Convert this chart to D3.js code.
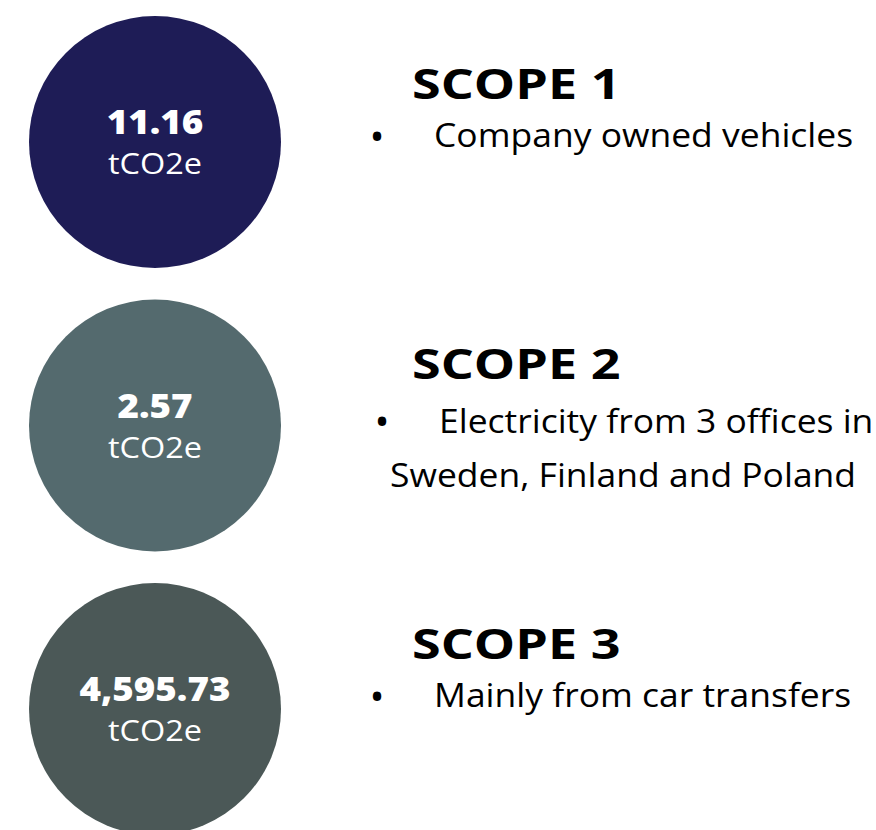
<!DOCTYPE html>
<html>
<head>
<meta charset="utf-8">
<script src="https://cdn.jsdelivr.net/npm/d3@7"></script>
<style>
  html, body { margin: 0; padding: 0; background: #fff; }
  svg { display: block; }
  text { font-family: "Open Sans", "Noto Sans", sans-serif; }
</style>
</head>
<body>
<div id="chart"></div>
<script>
// scopes and their reported emissions
const scopes = ["SCOPE 1", "SCOPE 2", "SCOPE 3"];
const emissions = [11.16, 2.57, 4595.73];
const unit = "tCO2e";
const descriptions = [
  ["Company owned vehicles"],
  ["Electricity from 3 offices in", "Sweden, Finland and Poland"],
  ["Mainly from car transfers"]
];
const colors = ["#1e1c56", "#546a6e", "#4b5857"];

const width = 876, height = 830;
const R = 126;

const svg = d3.select("#chart").append("svg")
    .attr("width", width)
    .attr("height", height);

// circles and text blocks sit on slightly different rhythms
const yCircle = d3.scalePoint().domain(scopes).range([142, 709]);
const yText = d3.scalePoint().domain(scopes).range([99, 659]);

const fmt = d3.format(",.2f");

// Open Sans is narrower than the original Montserrat, so widen it a bit
function label(sel, x, y, k) {
  return sel.append("text")
      .attr("transform", `translate(${x},${y}) scale(${k},1)`);
}

const data = scopes.map((s, i) => ({ scope: s, value: emissions[i], lines: descriptions[i], color: colors[i] }));

const circles = svg.selectAll("g.bubble")
  .data(data)
  .join("g")
    .attr("class", "bubble")
    .attr("transform", d => `translate(155,${yCircle(d.scope)})`);

circles.append("circle")
    .attr("r", R)
    .attr("fill", d => d.color);

circles.each(function(d) {
  const g = d3.select(this);
  label(g, 0, -8, 1.08)
      .attr("text-anchor", "middle")
      .attr("fill", "#fff")
      .attr("font-weight", 800)
      .attr("font-size", 34)
      .text(fmt(d.value));
  label(g, 0, 32, 1.12)
      .attr("text-anchor", "middle")
      .attr("fill", "#fff")
      .attr("font-size", 29)
      .text(unit);
});

const blocks = svg.selectAll("g.block")
  .data(data)
  .join("g")
    .attr("class", "block")
    .attr("transform", d => `translate(0,${yText(d.scope)})`);

blocks.each(function(d) {
  const g = d3.select(this);
  const multi = d.lines.length > 1;

  label(g, 412, 0, 1.24)
      .attr("fill", "#000")
      .attr("font-weight", 700)
      .attr("font-size", 42)
      .text(d.scope);

  g.append("text")
      .attr("x", multi ? 382 : 377)
      .attr("y", multi ? 41 : 36)
      .attr("text-anchor", "middle")
      .attr("dominant-baseline", "central")
      .attr("fill", "#000")
      .attr("font-size", 40)
      .text("\u2022");

  d.lines.forEach((line, j) => {
    label(g, multi ? (j === 0 ? 439 : 390) : 434, (multi ? 54 : 48) + j * 54, 1.075)
        .attr("fill", "#000")
        .attr("font-size", 33)
        .text(line);
  });
});
</script>
</body>
</html>
